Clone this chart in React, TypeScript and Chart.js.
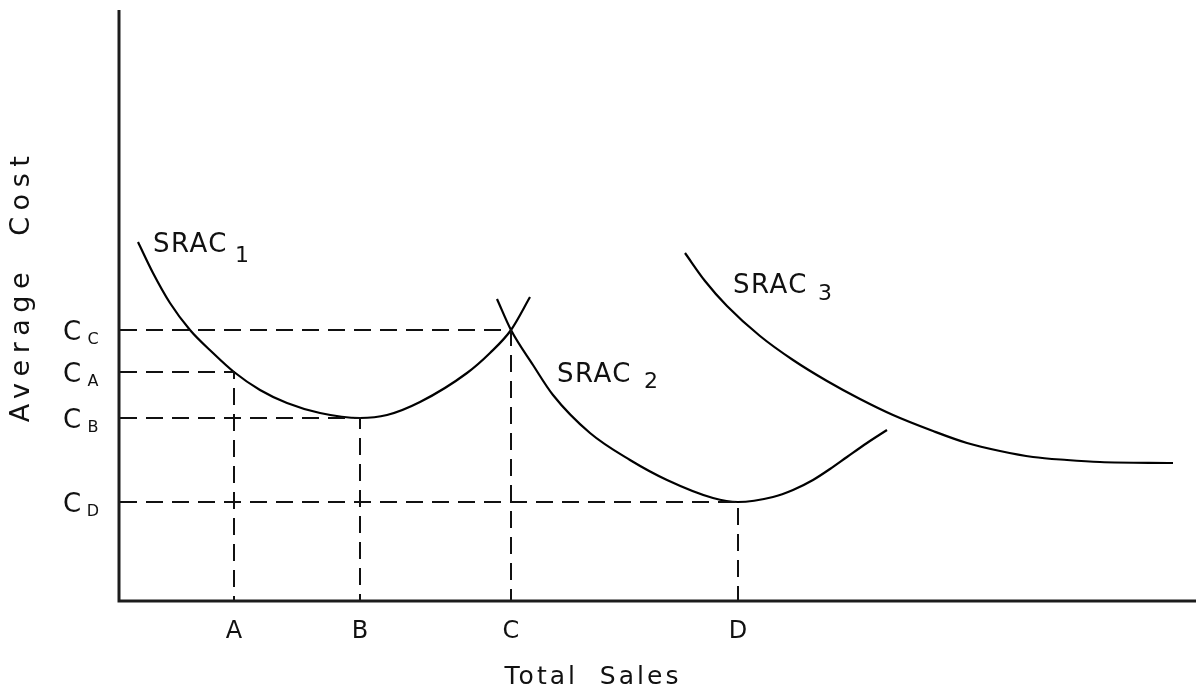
import { useEffect, useRef } from 'react';
import { Chart, registerables } from 'chart.js';

Chart.register(...registerables);

const FONT = '"DejaVu Sans", "Liberation Sans", sans-serif';
const INK = '#111111';

// Horizontal axis: quantity markers (Total Sales)
const salesTickLabels = ['A', 'B', 'C', 'D'];
const salesTickValues = [114, 240, 391, 618];

// Vertical axis: cost levels (Average Cost), main letter + subscript
const costTickSubs = ['C', 'A', 'B', 'D'];
const costTickValues = [270, 228, 182, 98];
// which sales marker each cost level belongs to
const costToSales = [2, 0, 1, 3];

// Short-run average cost curves
const srac1Sales = [18, 33, 50, 70, 93, 114, 140, 167, 200, 240, 267, 300, 347, 370, 391, 410];
const srac1Cost = [358, 327, 297, 270, 247, 228, 210, 197, 187, 182, 185, 198, 227, 247, 270, 303];

const srac2Sales = [377, 391, 413, 433, 470, 510, 547, 593, 618, 653, 673, 693, 710, 727, 747, 767];
const srac2Cost = [301, 270, 235, 205, 167, 140, 120, 102, 98, 103, 110, 120, 131, 143, 157, 170];

const srac3Sales = [565, 585, 607, 640, 673, 707, 740, 773, 813, 847, 880, 913, 947, 980, 1053];
const srac3Cost = [347, 319, 294, 264, 240, 219, 201, 185, 169, 157, 149, 143, 140, 138, 137];

const curveNames = ['1', '2', '3'];

const X_MAX = 1076;
const Y_MAX = 590;

const zip = (xs: number[], ys: number[]) => xs.map((x, i) => ({ x, y: ys[i] }));

function drawSpaced(ctx: CanvasRenderingContext2D, text: string, x: number, y: number, spacing: number) {
  (ctx as any).letterSpacing = spacing + 'px';
  ctx.fillText(text, x, y);
  (ctx as any).letterSpacing = '0px';
}

const annotationPlugin = {
  id: 'econAnnotations',
  afterDraw(chart: any) {
    const ctx: CanvasRenderingContext2D = chart.ctx;
    const xs = chart.scales.x;
    const ys = chart.scales.y;
    const a = chart.chartArea;
    ctx.save();

    // axes
    ctx.strokeStyle = '#1c1c1c';
    ctx.lineWidth = 3;
    ctx.beginPath();
    ctx.moveTo(a.left - 1, a.top);
    ctx.lineTo(a.left - 1, a.bottom + 1);
    ctx.lineTo(a.right, a.bottom + 1);
    ctx.stroke();

    ctx.fillStyle = INK;

    // x tick labels
    ctx.font = `24px ${FONT}`;
    ctx.textAlign = 'center';
    ctx.textBaseline = 'alphabetic';
    salesTickLabels.forEach((lab, i) => {
      const px = xs.getPixelForValue(salesTickValues[i]);
      ctx.fillText(lab, px, a.bottom + 38);
    });

    // y tick labels: C with subscript
    costTickValues.forEach((v, i) => {
      const py = ys.getPixelForValue(v);
      ctx.font = `26px ${FONT}`;
      ctx.textAlign = 'center';
      ctx.fillText('C', a.left - 48, py + 10);
      ctx.font = `16px ${FONT}`;
      ctx.fillText(costTickSubs[i], a.left - 27, py + 14);
    });

    // axis titles
    ctx.font = `25px ${FONT}`;
    ctx.textAlign = 'center';
    ctx.textBaseline = 'middle';
    drawSpaced(ctx, 'Total  Sales', xs.getPixelForValue(473), a.bottom + 77, 3);

    ctx.save();
    ctx.translate(a.left - 98, ys.getPixelForValue(314));
    ctx.rotate(-Math.PI / 2);
    ctx.font = `27px ${FONT}`;
    drawSpaced(ctx, 'Average  Cost', 0, 0, 6.5);
    ctx.restore();

    // curve labels
    const anchors = [
      { x: 33, y: 348, sub: 10, gap: 7 },
      { x: 437, y: 218, sub: 6, gap: 12 },
      { x: 613, y: 307, sub: 7, gap: 10 },
    ];
    ctx.textAlign = 'left';
    ctx.textBaseline = 'alphabetic';
    anchors.forEach((an, i) => {
      const px = xs.getPixelForValue(an.x);
      const py = ys.getPixelForValue(an.y);
      ctx.font = `26px ${FONT}`;
      drawSpaced(ctx, 'SRAC', px, py, 1.5);
      (ctx as any).letterSpacing = '1.5px';
      const w = ctx.measureText('SRAC').width;
      (ctx as any).letterSpacing = '0px';
      ctx.font = `22px ${FONT}`;
      ctx.fillText(curveNames[i], px + w + an.gap, py + an.sub);
    });

    ctx.restore();
  },
};

export default function App() {
  const ref = useRef<HTMLCanvasElement | null>(null);

  useEffect(() => {
    if (!ref.current) return;

    const guideSets = costTickValues.map((cv, i) => {
      const sx = salesTickValues[costToSales[i]];
      return {
        label: 'guide' + i,
        data: [
          { x: 0, y: cv },
          { x: sx, y: cv },
          { x: sx, y: 0 },
        ],
        borderColor: INK,
        borderWidth: 2,
        borderDash: [17, 9],
        pointRadius: 0,
        showLine: true,
        tension: 0,
        fill: false,
      };
    });

    const curve = (name: string, xs: number[], ys: number[]) => ({
      label: name,
      data: zip(xs, ys),
      borderColor: '#000',
      borderWidth: 2.2,
      pointRadius: 0,
      showLine: true,
      cubicInterpolationMode: 'monotone' as const,
      fill: false,
    });

    const chart = new Chart(ref.current, {
      type: 'scatter',
      data: {
        datasets: [
          ...guideSets,
          curve('SRAC1', srac1Sales, srac1Cost),
          curve('SRAC2', srac2Sales, srac2Cost),
          curve('SRAC3', srac3Sales, srac3Cost),
        ] as any,
      },
      options: {
        responsive: false,
        animation: false,
        layout: { padding: { left: 120, right: 0, top: 10, bottom: 98 } },
        plugins: {
          legend: { display: false },
          tooltip: { enabled: false },
        },
        scales: {
          x: { type: 'linear', min: 0, max: X_MAX, display: false },
          y: { type: 'linear', min: 0, max: Y_MAX, display: false },
        },
      },
      plugins: [annotationPlugin],
    });

    return () => chart.destroy();
  }, []);

  return (
    <div style={{ position: 'fixed', left: 0, top: 0, width: 1196, height: 698, background: '#fff' }}>
      <canvas ref={ref} width={1196} height={698} style={{ display: 'block' }} />
    </div>
  );
}
